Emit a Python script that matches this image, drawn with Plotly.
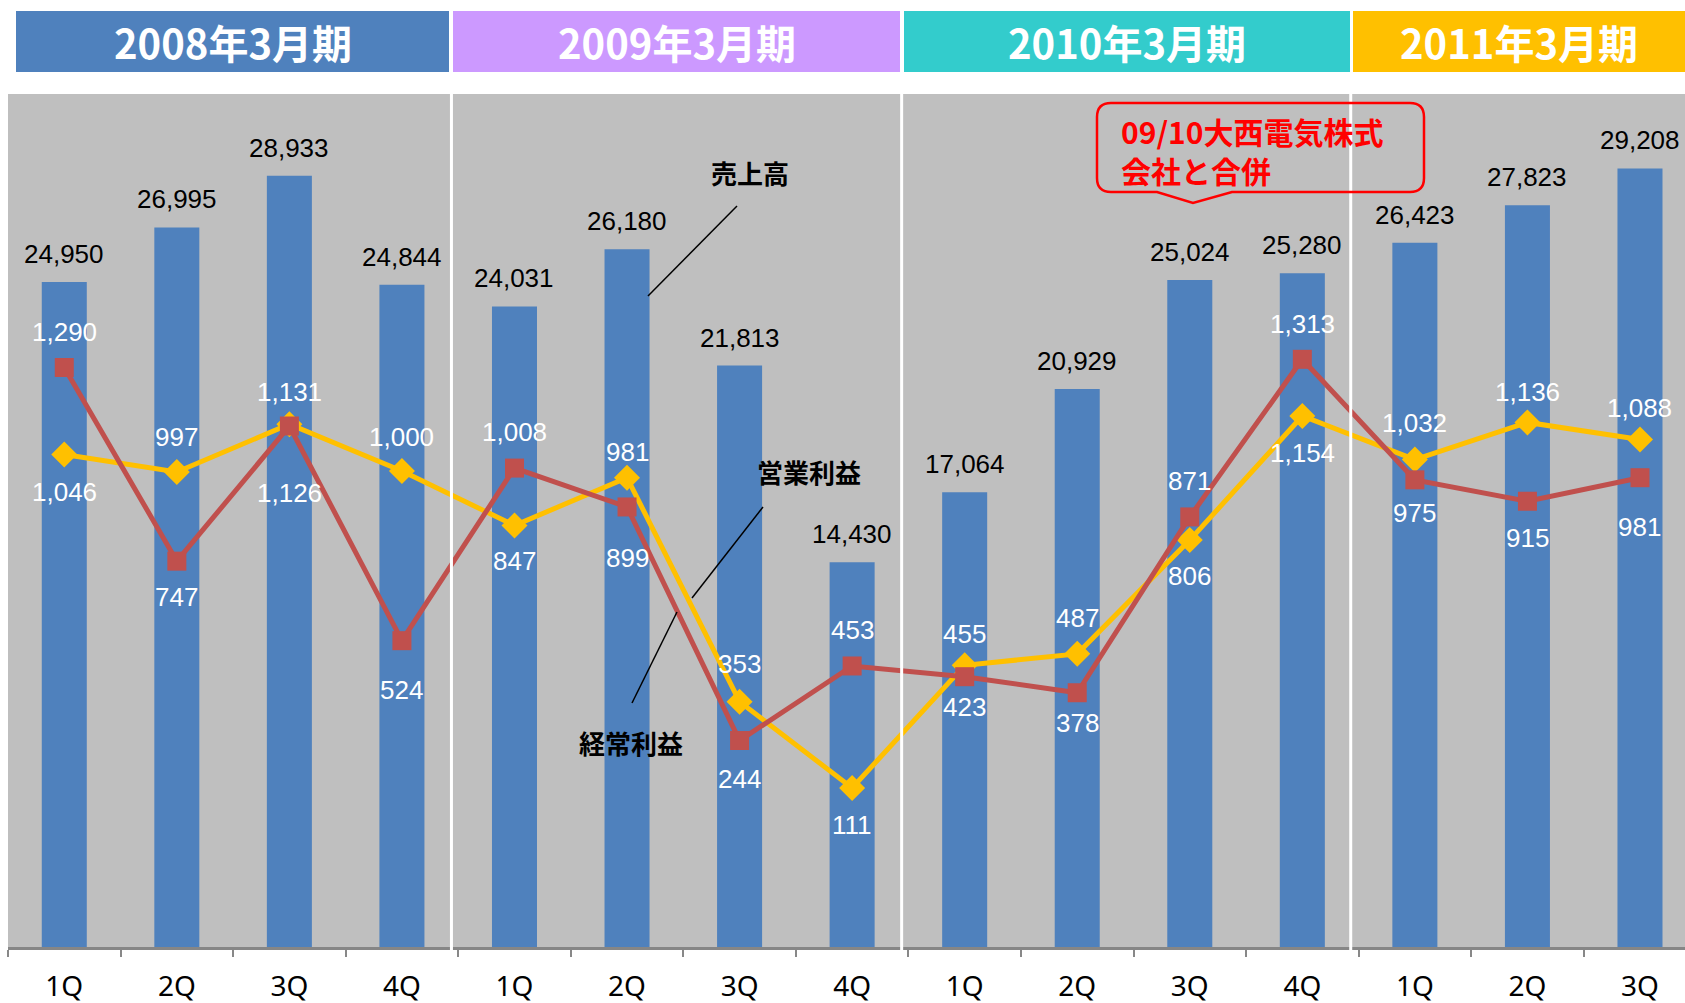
import plotly.graph_objects as go

# ---------------- data ----------------
fiscal_years = ["2008年3月期", "2009年3月期", "2010年3月期", "2011年3月期"]
quarter_labels = ["1Q", "2Q", "3Q", "4Q", "1Q", "2Q", "3Q", "4Q",
                  "1Q", "2Q", "3Q", "4Q", "1Q", "2Q", "3Q"]
quarter_year = [0, 0, 0, 0, 1, 1, 1, 1, 2, 2, 2, 2, 3, 3, 3]
sales = [24950, 26995, 28933, 24844, 24031, 26180, 21813, 14430,
         17064, 20929, 25024, 25280, 26423, 27823, 29208]          # 売上高
operating_profit = [1046, 997, 1131, 1000, 847, 981, 353, 111,
                    455, 487, 806, 1154, 1032, 1136, 1088]          # 営業利益
ordinary_profit = [1290, 747, 1126, 524, 1008, 899, 244, 453,
                   423, 378, 871, 1313, 975, 915, 981]              # 経常利益
series_names = ["売上高", "営業利益", "経常利益"]
merger_note = "09/10大西電気株式<br>会社と合併"

# ---------------- style ----------------
W, H = 1685, 1003
PLOT_L, PLOT_T, PLOT_B = 8, 94, 947   # plot area in page pixels
BAR_C = "#4F81BD"
OP_C = "#FFC000"
ORD_C = "#C0504D"
BG = "#BFBFBF"
band_colors = ["#4F81BD", "#CC99FF", "#33CCCC", "#FFC000"]
band_px = [(16, 449), (453, 900), (904, 1350), (1353, 1685)]
sep_idx = [3.44, 7.44, 11.43]
# label vertical offsets (px, + = downward)
op_off = [37, -35, -32, -34, 36, -26, -38, 37, -31, -36, 36, 37, -37, -30, -32]
ord_off = [-36, 36, 67, 49, -36, 51, 38, -36, 30, 30, -36, -35, 33, 37, 49]
NUMF = "Liberation Sans, Arial, sans-serif"
JPF = "Noto Sans CJK JP, sans-serif"

ml = PLOT_L
mt = PLOT_T
mb = H - PLOT_B
pw, ph = W - ml, H - mt - mb


def xp(px):
    return (px - PLOT_L) / pw


def yp(py):
    return (PLOT_B - py) / ph


cats = [q + "\u200b" * y for q, y in zip(quarter_labels, quarter_year)]

fig = go.Figure()
fig.add_trace(go.Bar(x=cats, y=sales, name=series_names[0], marker_color=BAR_C,
                     marker_line_width=0, width=0.4))
fig.add_trace(go.Scatter(x=cats, y=operating_profit, name=series_names[1], yaxis="y2",
                         mode="lines+markers",
                         line=dict(color=OP_C, width=5),
                         marker=dict(symbol="diamond", size=20, color=OP_C)))
fig.add_trace(go.Scatter(x=cats, y=ordinary_profit, name=series_names[2], yaxis="y2",
                         mode="lines+markers",
                         line=dict(color=ORD_C, width=5),
                         marker=dict(symbol="square", size=19, color=ORD_C)))

ann = []
for c, v in zip(cats, sales):
    ann.append(dict(x=c, y=v, xref="x", yref="y", text=f"{v:,}", showarrow=False,
                    yshift=28, xanchor="center", yanchor="middle",
                    font=dict(family=NUMF, size=26, color="black")))
for c, v, o in zip(cats, operating_profit, op_off):
    ann.append(dict(x=c, y=v, xref="x", yref="y2", text=f"{v:,}", showarrow=False,
                    yshift=-o, xanchor="center", yanchor="middle",
                    font=dict(family=NUMF, size=26, color="white")))
for c, v, o in zip(cats, ordinary_profit, ord_off):
    ann.append(dict(x=c, y=v, xref="x", yref="y2", text=f"{v:,}", showarrow=False,
                    yshift=-o, xanchor="center", yanchor="middle",
                    font=dict(family=NUMF, size=26, color="white")))

shapes = []
# fiscal-year header bands
for (x0, x1), col, fy in zip(band_px, band_colors, fiscal_years):
    shapes.append(dict(type="rect", xref="paper", yref="paper", x0=xp(x0), x1=xp(x1),
                       y0=yp(72), y1=yp(11), fillcolor=col, line_width=0, layer="above"))
    ann.append(dict(x=xp((x0 + x1) / 2), y=yp(42), xref="paper", yref="paper",
                    xanchor="center", yanchor="middle",
                    text=f"<b>{fy}</b>", showarrow=False,
                    font=dict(family=JPF, size=40, color="white")))
# white separators between fiscal years
for s in sep_idx:
    shapes.append(dict(type="line", xref="x", yref="paper", x0=s, x1=s, y0=-0.015, y1=1.0,
                       line=dict(color="white", width=3), layer="above"))

# series callouts
callouts = [(series_names[0], 750, 172, (737, 206), (648, 296)),
            (series_names[1], 809, 472, (763, 507), (692, 598)),
            (series_names[2], 631, 742, (677, 612), (632, 703))]
for txt, tx, ty, p0, p1 in callouts:
    ann.append(dict(x=xp(tx), y=yp(ty), xref="paper", yref="paper", text=f"<b>{txt}</b>",
                    xanchor="center", yanchor="middle",
                    showarrow=False, font=dict(family=JPF, size=26, color="black")))
    shapes.append(dict(type="line", xref="paper", yref="paper", x0=xp(p0[0]), y0=yp(p0[1]),
                       x1=xp(p1[0]), y1=yp(p1[1]), line=dict(color="black", width=1.5),
                       layer="above"))

# merger callout box
bx0, bx1, by0, by1, r = 1097, 1424, 103, 192, 14
pts = f"M {xp(bx0 + r)},{yp(by0)} L {xp(bx1 - r)},{yp(by0)} " \
      f"Q {xp(bx1)},{yp(by0)} {xp(bx1)},{yp(by0 + r)} L {xp(bx1)},{yp(by1 - r)} " \
      f"Q {xp(bx1)},{yp(by1)} {xp(bx1 - r)},{yp(by1)} L {xp(1232)},{yp(by1)} " \
      f"L {xp(1193)},{yp(203)} L {xp(1157)},{yp(by1)} L {xp(bx0 + r)},{yp(by1)} " \
      f"Q {xp(bx0)},{yp(by1)} {xp(bx0)},{yp(by1 - r)} L {xp(bx0)},{yp(by0 + r)} " \
      f"Q {xp(bx0)},{yp(by0)} {xp(bx0 + r)},{yp(by0)} Z"
shapes.append(dict(type="path", xref="paper", yref="paper", path=pts,
                   line=dict(color="#FF0000", width=2.5), fillcolor="rgba(0,0,0,0)",
                   layer="above"))
ann.append(dict(x=xp(1119), y=yp(150), xref="paper", yref="paper", xanchor="left",
                yanchor="middle", align="left", text=f"<b>{merger_note}</b>",
                showarrow=False, font=dict(family=JPF, size=30, color="#FF0000")))

fig.update_layout(
    width=W, height=H,
    margin=dict(l=ml, r=0, t=mt, b=mb, pad=0),
    paper_bgcolor="white", plot_bgcolor=BG,
    showlegend=False, bargap=0.6,
    xaxis=dict(type="category", range=[-0.5, 14.40], tickson="boundaries",
               ticks="outside", ticklen=7, tickwidth=2, tickcolor="#888888",
               showline=True, linecolor="#868686", linewidth=3,
               showgrid=False, zeroline=False, ticklabelstandoff=12,
               tickfont=dict(family="Noto Sans, sans-serif", size=28, color="black")),
    yaxis=dict(range=[0, 32000], visible=False, showgrid=False, zeroline=False),
    yaxis2=dict(range=[-335, 2057], overlaying="y", visible=False,
                showgrid=False, zeroline=False),
    annotations=ann, shapes=shapes,
)

fig.write_html("out.html",
               config={"displayModeBar": False},
               post_script="document.body.style.margin='0';"
                           "document.body.style.overflow='hidden';")
